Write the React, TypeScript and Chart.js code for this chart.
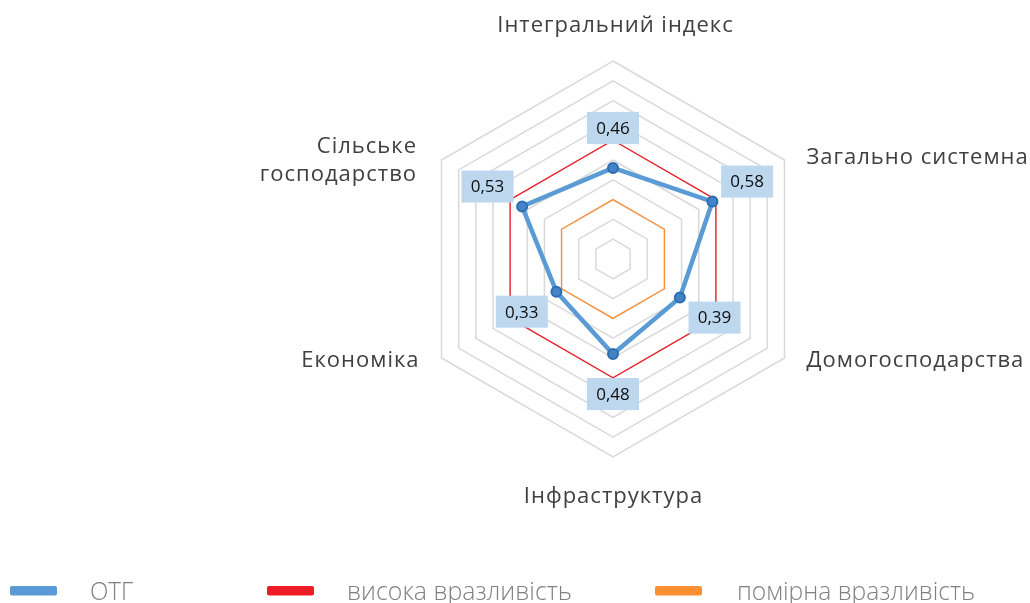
import React, { useEffect, useRef } from "react";
import { Chart, registerables } from "chart.js";

Chart.register(...registerables);

// ---- data ----
const categories: string[][] = [
  ["Інтегральний індекс"],
  ["Загально системна"],
  ["Домогосподарства"],
  ["Інфраструктура"],
  ["Економіка"],
  ["Сільське", "господарство"],
];
const seriesNames = ["ОТГ", "висока вразливість", "помірна вразливість"];
const otgValues = [0.46, 0.58, 0.39, 0.48, 0.33, 0.53];
const highValues = [0.6, 0.6, 0.6, 0.6, 0.6, 0.6];
const moderateValues = [0.3, 0.3, 0.3, 0.3, 0.3, 0.3];
const scaleMin = 0;
const scaleMax = 1;
const scaleStep = 0.1;

// ---- styles ----
const W = 1030;
const H = 603;
const colors = ["#5b9bd5", "#ee1c25", "#fd8f33"];
// per-category label placement relative to outer ring vertex: [dx, dy(baseline), align]
const labelPlace: [number, number, CanvasTextAlign][] = [
  [2, -29.5, "center"],
  [22, 4, "left"],
  [22, 9, "left"],
  [0, 46, "center"],
  [-23, 9, "right"],
  [-25.5, -7, "right"],
];
const legendX = [10, 267, 655]; // swatch left edges
const legendTextX = [90, 347, 737];
const legendTextW = [43, 225, 238];

const overlayPlugin = {
  id: "overlay",
  afterDatasetsDraw(chart: any) {
    const ctx = chart.ctx as CanvasRenderingContext2D;
    const scale = chart.scales.r;
    const meta = chart.getDatasetMeta(0);
    const cx = scale.xCenter;
    const cy = scale.yCenter;
    ctx.save();
    ctx.font = '17px "Open Sans"';
    ctx.textAlign = "center";
    ctx.textBaseline = "middle";
    meta.data.forEach((pt: any, i: number) => {
      const v = otgValues[i];
      const dx = pt.x - cx;
      const dy = pt.y - cy;
      const len = Math.hypot(dx, dy) || 1;
      const lx = pt.x + (dx / len) * 40;
      const ly = pt.y + (dy / len) * 40;
      const bw = 52;
      const bh = 32;
      ctx.fillStyle = "#bdd7ee";
      ctx.fillRect(lx - bw / 2, ly - bh / 2, bw, bh);
      ctx.fillStyle = "#0d0d0d";
      ctx.fillText(v.toFixed(2).replace(".", ","), lx, ly + 1);
    });
    ctx.restore();
  },
  afterDraw(chart: any) {
    const ctx = chart.ctx as CanvasRenderingContext2D;
    const scale = chart.scales.r;
    ctx.save();
    // point labels
    ctx.font = '22px "Open Sans"';
    (ctx as any).letterSpacing = "1px";
    ctx.fillStyle = "#404040";
    ctx.textBaseline = "alphabetic";
    categories.forEach((lines, i) => {
      const p = scale.getPointPosition(i, scale.drawingArea);
      const [ox, oy, align] = labelPlace[i];
      ctx.textAlign = align;
      const adj = align === "center" ? 0.5 : align === "right" ? 1 : 0;
      lines.forEach((line, k) => {
        ctx.fillText(line, p.x + ox + adj, p.y + oy + k * 28);
      });
    });
    (ctx as any).letterSpacing = "0px";
    // legend
    ctx.textAlign = "left";
    ctx.font = '300 26px "Open Sans"';
    seriesNames.forEach((name, i) => {
      ctx.fillStyle = colors[i];
      const x = legendX[i];
      const y = 586;
      const w = 47;
      const h = 9.5;
      ctx.beginPath();
      (ctx as any).roundRect ? (ctx as any).roundRect(x, y, w, h, 2) : ctx.rect(x, y, w, h);
      ctx.fill();
      ctx.fillStyle = "#808080";
      ctx.fillText(name, legendTextX[i], 600, legendTextW[i]);
    });
    ctx.restore();
  },
};

export default function App() {
  const ref = useRef<HTMLCanvasElement | null>(null);
  useEffect(() => {
    if (!ref.current) return;
    const chart = new Chart(ref.current, {
      type: "radar",
      data: {
        labels: categories.map((c) => c.join(" ")),
        datasets: [
          {
            label: seriesNames[0],
            data: otgValues,
            borderColor: colors[0],
            backgroundColor: "transparent",
            borderWidth: 4.5,
            fill: false,
            pointRadius: 5,
            pointBorderWidth: 2,
            pointBackgroundColor: "#4284c6",
            pointBorderColor: "#2e6db0",
          },
          {
            label: seriesNames[1],
            data: highValues,
            borderColor: colors[1],
            backgroundColor: "transparent",
            borderWidth: 1.3,
            fill: false,
            pointRadius: 0,
          },
          {
            label: seriesNames[2],
            data: moderateValues,
            borderColor: colors[2],
            backgroundColor: "transparent",
            borderWidth: 1.3,
            fill: false,
            pointRadius: 0,
          },
        ],
      },
      options: {
        responsive: false,
        animation: false,
        devicePixelRatio: 1,
        layout: { padding: { left: 415, right: W - 811, top: 61, bottom: H - 457 } },
        plugins: { legend: { display: false }, tooltip: { enabled: false } },
        elements: { line: { tension: 0 } },
        scales: {
          r: {
            min: scaleMin,
            max: scaleMax,
            ticks: { display: false, stepSize: scaleStep },
            angleLines: { display: false },
            grid: { color: "#d9d9d9", lineWidth: 1.5 },
            pointLabels: { display: false },
          },
        },
      },
      plugins: [overlayPlugin],
    });
    return () => chart.destroy();
  }, []);
  return (
    <div style={{ position: "absolute", left: 0, top: 0, width: W, height: H, background: "#ffffff" }}>
      <canvas ref={ref} width={W} height={H} style={{ width: W, height: H, display: "block" }} />
    </div>
  );
}
